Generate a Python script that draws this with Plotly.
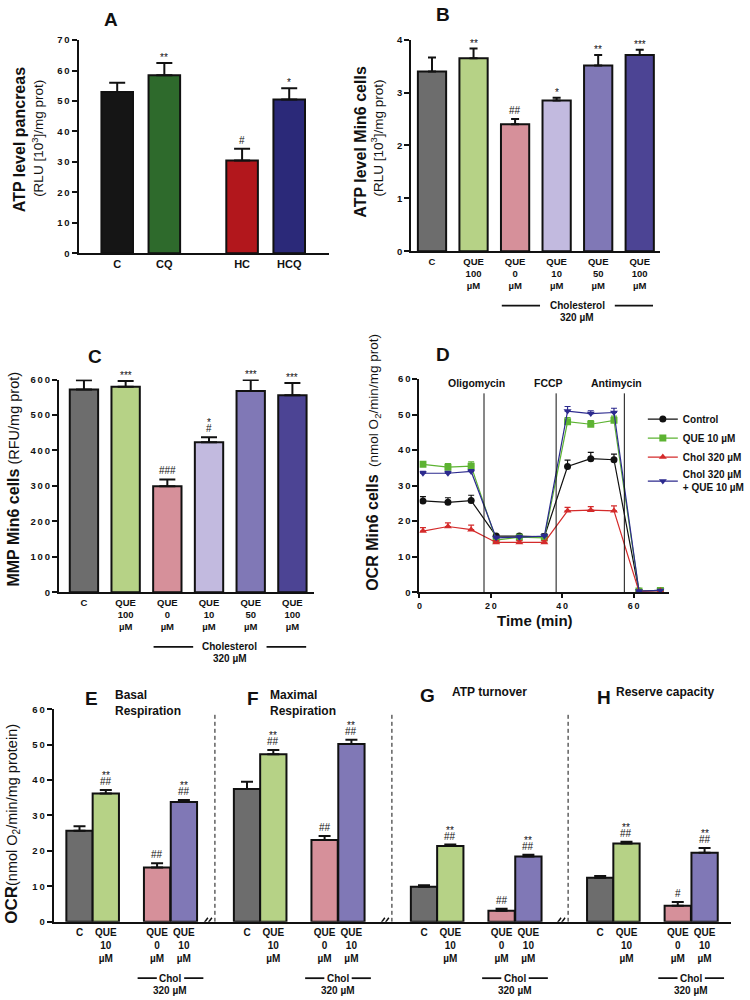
import plotly.graph_objects as go

FONT = "Liberation Sans, Arial, Helvetica, sans-serif"
W, H = 750, 1000
INK = "#111111"

# ---------------- data ----------------
# Panel A
a_labels = ["C", "CQ", "HC", "HCQ"]
a_values = [53.0, 58.5, 30.5, 50.5]
a_errors = [3.0, 4.0, 3.8, 3.7]
a_marks = ["", "**", "#", "*"]
a_colors = ["#151515", "#2e6a2c", "#b2171c", "#2b2979"]

# Panels B and C (same groups)
bc_labels = ["C", "QUE<br>100<br>µM", "QUE<br>0<br>µM", "QUE<br>10<br>µM",
             "QUE<br>50<br>µM", "QUE<br>100<br>µM"]
b_values = [3.40, 3.65, 2.40, 2.85, 3.51, 3.71]
b_errors = [0.26, 0.18, 0.10, 0.05, 0.20, 0.10]
b_marks = ["", "**", "##", "*", "**", "***"]
c_values = [572, 580, 299, 423, 568, 556]
c_errors = [26, 16, 19, 14, 31, 34]
c_marks = ["", "***", "###", "*|#", "***", "***"]
bc_colors = ["#6d6d6d", "#b6d286", "#d6909a", "#c2badf", "#8078b6", "#4c4494"]

# Panel D (time course)
d_time = [1, 8, 14.5, 21.5, 28, 35, 41.5, 48, 54.5, 61.5, 67.5]
d_control = [25.7, 25.3, 25.8, 15.8, 15.8, 15.6, 35.4, 37.6, 37.3, 0.3, 0.5]
d_control_err = [1.2, 1.3, 1.5, 0.5, 0.5, 0.8, 1.8, 1.8, 1.6, 0.1, 0.1]
d_que = [36.0, 35.2, 35.5, 14.7, 15.5, 15.3, 48.0, 47.3, 48.4, 0.3, 0.5]
d_que_err = [0.8, 1.0, 1.2, 0.6, 0.6, 0.8, 1.2, 1.0, 1.2, 0.1, 0.1]
d_chol = [17.2, 18.5, 17.6, 14.0, 14.0, 14.0, 22.9, 23.1, 22.9, 0.2, 0.4]
d_chol_err = [1.0, 1.0, 1.3, 0.5, 0.5, 0.5, 1.0, 1.0, 1.4, 0.1, 0.1]
d_cq = [33.5, 33.5, 34.0, 15.3, 15.5, 15.8, 51.0, 50.3, 50.6, 0.3, 0.5]
d_cq_err = [0.5, 0.5, 0.5, 0.5, 0.5, 0.5, 1.3, 0.8, 1.2, 0.1, 0.1]
d_names = ["Control", "QUE 10 µM", "Chol 320 µM", "Chol 320 µM<br>+ QUE 10 µM"]
d_colors = ["#111111", "#5db332", "#d42b2b", "#2c2a8e"]
d_symbols = ["circle", "square", "triangle-up", "triangle-down"]
d_injections = [18.1, 38.3, 57.4]
d_injection_names = ["Oligomycin", "FCCP", "Antimycin"]

# Panels E-H
eh_labels = ["C", "QUE<br>10<br>µM", "QUE<br>0<br>µM", "QUE<br>10<br>µM"]
eh_colors = ["#6d6d6d", "#b6d286", "#d6909a", "#8078b6"]
basal_values = [25.7, 36.2, 15.3, 33.8]
basal_errors = [1.3, 1.0, 1.2, 0.6]
basal_marks = ["", "**|##", "##", "**|##"]
maximal_values = [37.5, 47.3, 23.1, 50.2]
maximal_errors = [2.0, 1.2, 1.1, 1.2]
maximal_marks = ["", "**|##", "##", "**|##"]
atp_values = [9.9, 21.4, 3.1, 18.4]
atp_errors = [0.4, 0.4, 0.6, 0.5]
atp_marks = ["", "**|##", "##", "**|##"]
reserve_values = [12.4, 22.1, 4.5, 19.5]
reserve_errors = [0.5, 0.5, 1.1, 1.3]
reserve_marks = ["", "**|##", "#", "**|##"]
eh_letters = ["E", "F", "G", "H"]
eh_titles = ["Basal<br>Respiration", "Maximal<br>Respiration", "ATP turnover", "Reserve capacity"]

# ---------------- layout helpers ----------------
def px_x(p):
    return p / W

def px_y(p):
    return 1 - p / H

def xdom(l, r):
    return [l / W, r / W]

def ydom(top, bottom):
    return [1 - bottom / H, 1 - top / H]

def spaced(v):
    return "\u2009".join(str(v))

fig = go.Figure()

def yaxis_cfg(domain, rng, step, anchor, size=9.5):
    vals = list(range(int(rng[0]), int(rng[1]) + 1, step))
    return dict(domain=domain, range=rng, anchor=anchor, showline=True, linewidth=2,
                linecolor=INK, ticks="outside", ticklen=5, tickwidth=2, tickcolor=INK,
                tickvals=vals, ticktext=[spaced(v) for v in vals],
                tickfont=dict(family=FONT, size=size, color=INK, weight="bold"),
                showgrid=False, zeroline=False, fixedrange=True)

def xaxis_cfg(domain, rng, anchor, vals, text, size):
    return dict(domain=domain, range=rng, anchor=anchor, showline=True, linewidth=2,
                linecolor=INK, ticks="", tickvals=vals, ticktext=text,
                tickfont=dict(family=FONT, size=size, color=INK, weight="bold"),
                showgrid=False, zeroline=False, fixedrange=True)

def add_bars(xa, ya, pos, vals, errs, colors, width, cap):
    fig.add_trace(go.Bar(
        x=pos, y=vals, width=width, xaxis=xa, yaxis=ya, showlegend=False,
        marker=dict(color=colors, line=dict(color=INK, width=2)),
        error_y=dict(type="data", array=errs, arrayminus=[0] * len(errs), symmetric=False,
                     color=INK, thickness=2, width=cap)))

def add_marks(xref, yref, xs, vals, errs, marks):
    for x, v, e, m in zip(xs, vals, errs, marks):
        if not m:
            continue
        parts = m.split("|")[::-1]
        shift = 1
        for p in parts:
            star = p.startswith("*")
            fig.add_annotation(x=x, y=v + e, xref=xref, yref=yref, text=p, showarrow=False,
                               xanchor="center", yanchor="bottom",
                               yshift=shift - (3 if star else 0),
                               font=dict(family=FONT, size=10, color=INK))
            shift += 9

def text_px(x, y, text, size, bold=False, xanchor="center", yanchor="middle", angle=0, align="center"):
    fig.add_annotation(x=px_x(x), y=px_y(y), xref="paper", yref="paper", text=text,
                       showarrow=False, xanchor=xanchor, yanchor=yanchor, textangle=angle,
                       align=align,
                       font=dict(family=FONT, size=size, color=INK, weight="bold" if bold else "normal"))

def add_group(xref, center, outer, inner, y_line, name, size):
    for a, b in [(center - outer, center - inner), (center + inner, center + outer)]:
        fig.add_shape(type="line", xref=xref, yref="paper", x0=a, x1=b,
                      y0=px_y(y_line), y1=px_y(y_line), line=dict(color=INK, width=1.8))
    fig.add_annotation(x=center, y=px_y(y_line), xref=xref, yref="paper", text=name,
                       showarrow=False, xanchor="center", yanchor="middle",
                       font=dict(family=FONT, size=size, color=INK, weight="bold"))
    fig.add_annotation(x=center, y=px_y(y_line + 12), xref=xref, yref="paper", text="320 µM",
                       showarrow=False, xanchor="center", yanchor="middle",
                       font=dict(family=FONT, size=size, color=INK, weight="bold"))

# ---------------- Panel A ----------------
a_pos = [0, 1, 2.65, 3.65]
add_bars("x", "y", a_pos, a_values, a_errors, a_colors, 0.67, 8)
add_marks("x", "y", a_pos, a_values, a_errors, a_marks)
text_px(110, 14, "A", 19, bold=True)
text_px(17, 135, "ATP level pancreas", 16, bold=True, angle=-90)
text_px(35, 134, "(RLU [10<sup>3</sup>]/mg prot)", 13.5, angle=-90)

# ---------------- Panel B ----------------
bc_pos = list(range(len(bc_labels)))
add_bars("x2", "y2", bc_pos, b_values, b_errors, bc_colors, 0.68, 4)
add_marks("x2", "y2", bc_pos, b_values, b_errors, b_marks)
text_px(448, 9, "B", 19, bold=True)
text_px(364, 137, "ATP level Min6 cells", 16, bold=True, angle=-90)
text_px(381, 133, "(RLU [10<sup>3</sup>]/mg prot)", 13.5, angle=-90)
add_group("x2", 3.5, 1.82, 0.9, 303, "Cholesterol", 10)

# ---------------- Panel C ----------------
add_bars("x3", "y3", bc_pos, c_values, c_errors, bc_colors, 0.68, 8)
add_marks("x3", "y3", bc_pos, c_values, c_errors, c_marks)
text_px(94, 354, "C", 19, bold=True)
text_px(11, 478, "<span style='font-size:16px'><b>MMP Min6 cells</b></span> (RFU/mg prot)", 14.5, angle=-90)
add_group("x3", 3.5, 1.83, 0.88, 648, "Cholesterol", 10)

# ---------------- Panel D ----------------
for name, ys, es, col, sym in zip(d_names, [d_control, d_que, d_chol, d_cq],
                                  [d_control_err, d_que_err, d_chol_err, d_cq_err],
                                  d_colors, d_symbols):
    fig.add_trace(go.Scatter(
        x=d_time, y=ys, name=name, mode="lines+markers", xaxis="x4", yaxis="y4",
        line=dict(color=col, width=1.2), marker=dict(color=col, symbol=sym, size=7),
        error_y=dict(type="data", array=es, arrayminus=[0] * len(es), symmetric=False,
                     color=col, thickness=1.2, width=3)))
for t, nm in zip(d_injections, d_injection_names):
    fig.add_shape(type="line", xref="x4", yref="y4", x0=t, x1=t, y0=0, y1=56,
                  line=dict(color=INK, width=1))
    fig.add_annotation(x=t, y=59, xref="x4", yref="y4", text=nm, showarrow=False,
                       xanchor="center", yanchor="middle",
                       xshift=-8, font=dict(family=FONT, size=10.5, color=INK, weight="bold"))
text_px(448, 352, "D", 19, bold=True)
text_px(378, 461, "<span style='font-size:16px'><b>OCR Min6 cells</b></span>  (nmol O<sub>2</sub>/min/mg prot)", 13.5, angle=-90)
text_px(542, 621, "Time (min)", 15, bold=True)

# ---------------- Panels E-H ----------------
eh_offsets = [0, 6.37, 13.1, 19.8]
eh_within = [0, 1, 2.95, 3.97]
eh_vals = [basal_values, maximal_values, atp_values, reserve_values]
eh_errs = [basal_errors, maximal_errors, atp_errors, reserve_errors]
eh_marks = [basal_marks, maximal_marks, atp_marks, reserve_marks]
eh_tickvals, eh_ticktext = [], []
for off, vals, errs, marks in zip(eh_offsets, eh_vals, eh_errs, eh_marks):
    pos = [off + w for w in eh_within]
    add_bars("x5", "y5", pos, vals, errs, eh_colors, 1.0, 6)
    add_marks("x5", "y5", pos, vals, errs, marks)
    eh_tickvals += pos
    eh_ticktext += eh_labels
    add_group("x5", off + (eh_within[2] + eh_within[3]) / 2, 1.25, 0.52, 983, "Chol", 10)
for off in eh_offsets[1:]:
    fig.add_shape(type="line", xref="x5", yref="y5", x0=off - 1.22, x1=off - 1.22, y0=0, y1=58.6,
                  line=dict(color=INK, width=1, dash="4px,3px"))
    for dx in (-4, 0):
        fig.add_shape(type="line", xref="x5", yref="y5", xsizemode="pixel", ysizemode="pixel",
                      xanchor=off - 1.45, yanchor=0, x0=dx - 3, x1=dx + 3, y0=-4, y1=4,
                      line=dict(color=INK, width=1.5))
for (lx, ly), letter in zip([(90, 700), (255, 700), (433, 697), (612, 699)], eh_letters):
    text_px(lx, ly, letter, 19, bold=True)
for (tx, ty), title in zip([(112, 705), (270, 705), (456, 694), (623, 694)], eh_titles):
    text_px(tx, ty, title, 12, bold=True, xanchor="left", align="left")
text_px(9, 827, "<span style='font-size:17px'><b>OCR</b></span>(nmol O<sub>2</sub>/min/mg protein)", 14.5, angle=-90)

# ---------------- axes ----------------
fig.update_layout(
    xaxis=xaxis_cfg(xdom(77, 332), [-0.82, 4.49], "y", a_pos, a_labels, 11),
    yaxis=yaxis_cfg(ydom(34.5, 250), [0, 70], 10, "x"),
    xaxis2=xaxis_cfg(xdom(416, 670), [-0.5, 5.5], "y2", bc_pos, bc_labels, 9.5),
    yaxis2=yaxis_cfg(ydom(34, 248), [0, 4], 1, "x2"),
    xaxis3=xaxis_cfg(xdom(57, 317), [-0.6, 5.52], "y3", bc_pos, bc_labels, 9.5),
    yaxis3=yaxis_cfg(ydom(377.7, 592.7), [0, 600], 100, "x3"),
    xaxis4=dict(domain=xdom(424.3, 679), range=[0, 70], anchor="y4", showline=True, linewidth=2,
                linecolor=INK, ticks="outside", ticklen=4, tickwidth=2, tickcolor=INK,
                tickvals=[0, 20, 40, 60], ticktext=[spaced(v) for v in [0, 20, 40, 60]],
                tickfont=dict(family=FONT, size=9, color=INK, weight="bold"),
                showgrid=False, zeroline=False, fixedrange=True),
    yaxis4=yaxis_cfg(ydom(377.3, 592.7), [0, 60], 10, "x4"),
    xaxis5=xaxis_cfg(xdom(51.7, 742), [-0.98, 24.78], "y5", eh_tickvals, eh_ticktext, 10),
    yaxis5=yaxis_cfg(ydom(711, 926), [0, 60], 10, "x5"),
)

fig.update_layout(
    width=W, height=H, margin=dict(l=0, r=0, t=0, b=0),
    paper_bgcolor="white", plot_bgcolor="white", barmode="overlay",
    font=dict(family=FONT, color=INK),
    legend=dict(x=px_x(652), y=px_y(403), xanchor="left", yanchor="top",
                bgcolor="rgba(0,0,0,0)", tracegroupgap=0, itemwidth=30,
                font=dict(family=FONT, size=10, color=INK, weight="bold")),
)

fig.write_html("out.html", config={"displayModeBar": False},
               post_script="document.body.style.margin='0';document.body.style.overflow='hidden';")
